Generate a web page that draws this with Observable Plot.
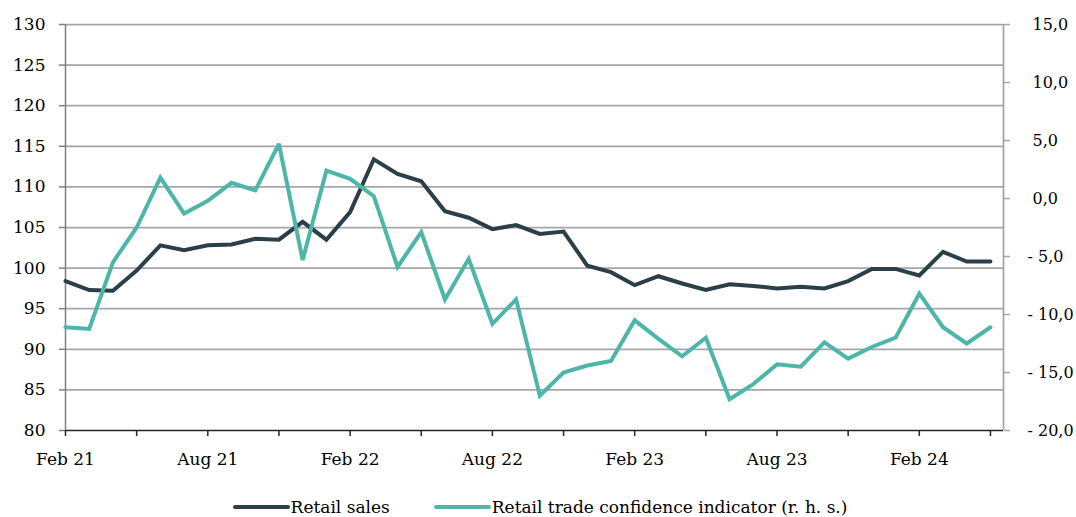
<!DOCTYPE html>
<html><head><meta charset="utf-8">
<script src="https://cdn.jsdelivr.net/npm/d3@7"></script>
<script src="https://cdn.jsdelivr.net/npm/@observablehq/plot@0.6"></script>
<style>
html,body{margin:0;padding:0;background:#fff;}
body{font-family:"DejaVu Serif",serif;width:1076px;}
#legend{display:flex;justify-content:center;align-items:center;height:37px;font-size:17px;color:#000;padding-left:4px;padding-top:8px;}
.item{display:flex;align-items:center;}
.sw{width:57px;height:4px;border-radius:2px;margin-right:1px;}
.gap{width:44px;}
</style></head><body>
<div id="chart"></div>
<div id="legend"></div>
<script>
const months = ["Feb 21","Mar 21","Apr 21","May 21","Jun 21","Jul 21","Aug 21","Sep 21","Oct 21","Nov 21","Dec 21","Jan 22",
"Feb 22","Mar 22","Apr 22","May 22","Jun 22","Jul 22","Aug 22","Sep 22","Oct 22","Nov 22","Dec 22","Jan 23",
"Feb 23","Mar 23","Apr 23","May 23","Jun 23","Jul 23","Aug 23","Sep 23","Oct 23","Nov 23","Dec 23","Jan 24",
"Feb 24","Mar 24","Apr 24","May 24"];
const retailSales = [98.4,97.3,97.2,99.7,102.8,102.2,102.8,102.9,103.6,103.5,105.7,103.5,
106.9,113.4,111.6,110.7,107.0,106.2,104.8,105.3,104.2,104.5,100.3,99.5,
97.9,99.0,98.1,97.3,98.0,97.8,97.5,97.7,97.5,98.4,99.9,99.9,
99.1,102.0,100.8,100.8];
const confidence = [-11.1,-11.25,-5.5,-2.5,1.8,-1.3,-0.2,1.35,0.7,4.7,-5.3,2.4,
1.7,0.2,-5.9,-2.9,-8.7,-5.2,-10.8,-8.7,-17.0,-15.0,-14.4,-14.0,
-10.5,-12.1,-13.6,-12.0,-17.3,-16.0,-14.3,-14.5,-12.4,-13.8,-12.8,-12.0,
-8.2,-11.1,-12.5,-11.1];
const leftTicks = [80,85,90,95,100,105,110,115,120,125,130];
const rightTicks = [-20,-15,-10,-5,0,5,10,15];
const xTickLabels = ["Feb 21","Aug 21","Feb 22","Aug 22","Feb 23","Aug 23","Feb 24"];
const seriesNames = ["Retail sales","Retail trade confidence indicator (r. h. s.)"];
const colors = ["#2b3f48","#4db6a8"];

const toLeft = r => 80 + (r + 20) * 50 / 35;
const toRight = v => Math.round(((v - 80) * 35 / 50 - 20) * 10) / 10;
const fmtRight = v => { const r = toRight(v); const s = Math.abs(r).toFixed(1).replace(".", ","); return r < 0 ? "- " + s : s; };

const data = months.map((m, i) => ({i, m, sales: retailSales[i], conf: confidence[i]}));
const labelIdx = xTickLabels.map(l => months.indexOf(l));
const minorIdx = months.map((m, i) => i).filter(i => i % 3 === 0);
const xMax = 39.55;

const chart = Plot.plot({
  width: 1076, height: 480,
  marginLeft: 65, marginRight: 73, marginTop: 24, marginBottom: 50,
  style: {fontFamily: "DejaVu Serif", fontSize: "17px", color: "#000", background: "#fff"},
  x: {type: "linear", domain: [0, xMax]},
  y: {domain: [80, 130]},
  marks: [
    Plot.gridY(leftTicks.filter(t => t > 80), {stroke: "#a6a6a6", strokeOpacity: 1, strokeWidth: 1.75}),
    Plot.axisY({ticks: leftTicks, tickSize: 6, tickPadding: 14, stroke: "#7f7f7f", strokeWidth: 1.5, label: null}),
    Plot.axisY({anchor: "right", ticks: rightTicks.filter(t => t < 0).map(toLeft), tickFormat: fmtRight, tickSize: 6, tickPadding: 18, fontSize: 16, stroke: "#a6a6a6", strokeWidth: 1.5, label: null}),
    Plot.axisY({anchor: "right", ticks: rightTicks.filter(t => t >= 0).map(toLeft), tickFormat: fmtRight, tickSize: 6, tickPadding: 23, fontSize: 16, stroke: "#a6a6a6", strokeWidth: 1.5, label: null}),
    Plot.axisX({ticks: minorIdx, tickSize: 6, tickFormat: () => "", stroke: "#262626", strokeWidth: 1.5, label: null}),
    Plot.axisX({ticks: labelIdx, tickSize: 0, tickPadding: 22, tickFormat: i => months[i], label: null}),
    Plot.ruleY([80], {stroke: "#262626", strokeWidth: 1.5}),
    Plot.ruleX([0], {stroke: "#7f7f7f", strokeWidth: 1.5}),
    Plot.ruleX([xMax], {stroke: "#a6a6a6", strokeWidth: 1.75}),
    Plot.line(data, {x: "i", y: "sales", stroke: colors[0], strokeWidth: 4, strokeLinejoin: "miter", strokeMiterlimit: 3, strokeLinecap: "round"}),
    Plot.line(data, {x: "i", y: d => toLeft(d.conf), stroke: colors[1], strokeWidth: 4, strokeLinejoin: "miter", strokeMiterlimit: 3, strokeLinecap: "round"})
  ]
});
document.getElementById("chart").append(chart);

const lg = document.getElementById("legend");
seriesNames.forEach((n, k) => {
  if (k > 0) { const g = document.createElement("div"); g.className = "gap"; lg.append(g); }
  const it = document.createElement("div"); it.className = "item";
  const sw = document.createElement("div"); sw.className = "sw"; sw.style.background = colors[k];
  const tx = document.createElement("span"); tx.textContent = n;
  it.append(sw, tx); lg.append(it);
});
</script>
</body></html>
